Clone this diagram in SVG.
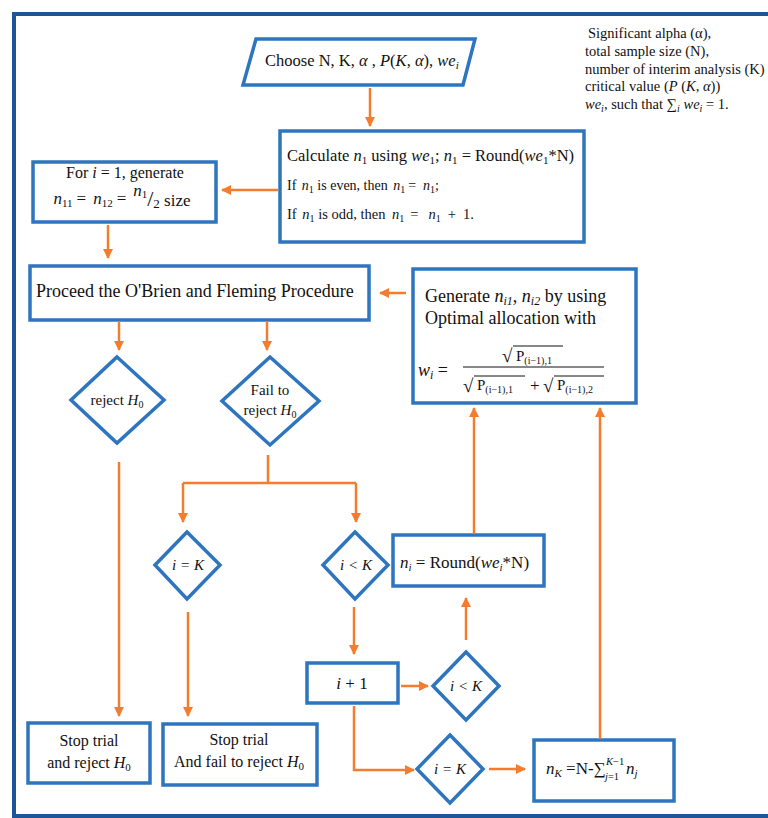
<svg xmlns="http://www.w3.org/2000/svg" width="768" height="818" viewBox="0 0 768 818">
<defs>
<marker id="ah" viewBox="0 0 10 10" refX="9" refY="5" markerWidth="10" markerHeight="10" markerUnits="userSpaceOnUse" orient="auto">
<path d="M0,0 L10,5 L0,10 z" fill="#f47c2f"/>
</marker>
</defs>
<style>
.frame{fill:none;stroke:#1f5596;stroke-width:4}
.box{fill:#fff;stroke:#2e75c0;stroke-width:3.5}
.c{fill:none;stroke:#f47c2f;stroke-width:2.5}
.a{marker-end:url(#ah)}
text{font-family:"Liberation Serif","Times New Roman",serif;fill:#111}
.i{font-style:italic}
.mid{text-anchor:middle}
.bar{stroke:#111;stroke-width:1}
</style>
<rect x="0" y="0" width="768" height="818" fill="#fff"/>
<rect class="frame" x="14" y="14" width="780" height="802"/>

<g id="notes">
<text font-size="14.5" x="588" y="38">Significant alpha (α),</text>
<text font-size="14.5" x="585" y="56">total sample size (N),</text>
<text font-size="14.5" x="585" y="74">number of interim analysis (K)</text>
<text font-size="14.5" x="585" y="91">critical value (<tspan class="i">P</tspan> (<tspan class="i">K</tspan>, <tspan class="i">α</tspan>))</text>
<text font-size="14.5" x="585" y="109"><tspan class="i">we</tspan><tspan class="i" font-size="10" dy="3">i</tspan><tspan dy="-3">, such that ∑</tspan><tspan class="i" font-size="10" dy="3">i</tspan><tspan class="i" dy="-3"> we</tspan><tspan class="i" font-size="10" dy="3">i</tspan><tspan dy="-3"> = 1.</tspan></text>
</g>

<g id="choose">
<polygon class="box" points="256,39 475,39 463,85 243,85"/>
<text font-size="16.5" x="265" y="66">Choose N, K, <tspan class="i">α</tspan> , <tspan class="i">P</tspan>(<tspan class="i">K</tspan>, <tspan class="i">α</tspan>), <tspan class="i">we</tspan><tspan class="i" font-size="11" dy="3">i</tspan></text>
</g>

<g id="calculate">
<rect class="box" x="280" y="131" width="304" height="111"/>
<text font-size="16.5" x="287" y="161">Calculate <tspan class="i">n</tspan><tspan font-size="11" dy="3">1</tspan><tspan dy="-3"> using </tspan><tspan class="i">we</tspan><tspan font-size="11" dy="3">1</tspan><tspan dy="-3">; </tspan><tspan class="i">n</tspan><tspan font-size="11" dy="3">1</tspan><tspan dy="-3"> = Round(</tspan><tspan class="i">we</tspan><tspan font-size="11" dy="3">1</tspan><tspan dy="-3">*N)</tspan></text>
<text font-size="14" x="287" y="190">If <tspan class="i" dx="2">n</tspan><tspan font-size="10" dy="3">1</tspan><tspan dy="-3"> is even, then </tspan><tspan class="i" dx="2">n</tspan><tspan font-size="10" dy="3">1</tspan><tspan dy="-3" dx="3">=</tspan><tspan class="i" dx="7">n</tspan><tspan font-size="10" dy="3">1</tspan><tspan dy="-3">;</tspan></text>
<text font-size="14.5" x="287" y="219">If <tspan class="i" dx="2">n</tspan><tspan font-size="10" dy="3">1</tspan><tspan dy="-3"> is odd, then </tspan><tspan class="i" dx="3">n</tspan><tspan font-size="10" dy="3">1</tspan><tspan dy="-3" dx="6">=</tspan><tspan class="i" dx="10">n</tspan><tspan font-size="10" dy="3">1</tspan><tspan dy="-3" dx="7">+</tspan><tspan dx="7">1.</tspan></text>
</g>

<g id="for">
<rect class="box" x="33" y="162" width="183" height="60"/>
<text font-size="16" x="125" y="178" class="mid">For <tspan class="i">i</tspan> = 1, generate</text>
<text font-size="17" x="122" y="204" class="mid"><tspan class="i">n</tspan><tspan font-size="11" dy="3">11</tspan><tspan dy="-3" dx="4">=</tspan><tspan class="i" dx="7">n</tspan><tspan font-size="11" dy="3">12</tspan><tspan dy="-3" dx="4">=</tspan><tspan class="i" dy="-8" dx="7">n</tspan><tspan font-size="11" dy="2">1</tspan><tspan font-size="22" dy="8">/</tspan><tspan font-size="13" dy="2">2</tspan><tspan dy="-2"> size</tspan></text>
</g>

<g id="proceed">
<rect class="box" x="30" y="266" width="339" height="54"/>
<text font-size="18" x="36" y="297">Proceed the O'Brien and Fleming Procedure</text>
</g>

<g id="generate">
<rect class="box" x="413" y="269" width="223" height="134"/>
<text font-size="18" x="425" y="302">Generate <tspan class="i">n</tspan><tspan class="i" font-size="12" dy="3">i1</tspan><tspan dy="-3">, </tspan><tspan class="i">n</tspan><tspan class="i" font-size="12" dy="3">i2</tspan><tspan dy="-3"> by using</tspan></text>
<text font-size="18" x="425" y="324">Optimal allocation with</text>
<text font-size="18" x="418" y="376"><tspan class="i">w</tspan><tspan class="i" font-size="12" dy="3">i</tspan><tspan dy="-3"> =</tspan></text>
<text font-size="19" x="502" y="362">√</text>
<path class="bar" d="M513,346 H563"/>
<text font-size="15" x="516" y="361">P<tspan font-size="10" dy="3">(i−1),1</tspan></text>
<path class="bar" d="M463,367 H604"/>
<text font-size="19" x="463" y="392">√</text>
<path class="bar" d="M474,376 H525"/>
<text font-size="15" x="477" y="390">P<tspan font-size="10" dy="3">(i−1),1</tspan></text>
<text font-size="17" x="530" y="391">+</text>
<text font-size="19" x="543" y="392">√</text>
<path class="bar" d="M554,376 H604"/>
<text font-size="15" x="557" y="390">P<tspan font-size="10" dy="3">(i−1),2</tspan></text>
</g>

<g id="reject">
<polygon class="box" points="117,357 164,400 117,443 71,400"/>
<text font-size="15" x="117" y="405" class="mid">reject <tspan class="i">H</tspan><tspan font-size="10" dy="3">0</tspan></text>
</g>

<g id="fail">
<polygon class="box" points="270,357 319,401 270,445 222,401"/>
<text font-size="15" x="270" y="395" class="mid">Fail to</text>
<text font-size="15" x="270" y="415" class="mid">reject <tspan class="i">H</tspan><tspan font-size="10" dy="3">0</tspan></text>
</g>

<g id="ieqk1">
<polygon class="box" points="187,532 220,565 187,599 155,565"/>
<text font-size="15" x="188" y="570" class="mid i">i = K</text>
</g>

<g id="iltk1">
<polygon class="box" points="355,532 388,565 355,599 323,565"/>
<text font-size="15" x="356" y="570" class="mid i">i &lt; K</text>
</g>

<g id="ni">
<rect class="box" x="393" y="535" width="151" height="51"/>
<text font-size="17" x="400" y="568"><tspan class="i">n</tspan><tspan class="i" font-size="11" dy="3">i</tspan><tspan dy="-3"> = Round(</tspan><tspan class="i">we</tspan><tspan class="i" font-size="11" dy="3">i</tspan><tspan dy="-3">*N)</tspan></text>
</g>

<g id="iplus1">
<rect class="box" x="307" y="663" width="91" height="40"/>
<text font-size="17" x="352" y="689" class="mid"><tspan class="i">i</tspan> + 1</text>
</g>

<g id="iltk2">
<polygon class="box" points="466,652 499,686 466,720 433,686"/>
<text font-size="15" x="466" y="691" class="mid i">i &lt; K</text>
</g>

<g id="ieqk2">
<polygon class="box" points="450,735 483,769 450,803 417,769"/>
<text font-size="15" x="450" y="774" class="mid i">i = K</text>
</g>

<g id="nk">
<rect class="box" x="534" y="740" width="140" height="61"/>
<text font-size="17" x="546" y="774"><tspan class="i">n</tspan><tspan class="i" font-size="11" dy="3">K</tspan><tspan dy="-3"> =N-∑</tspan></text>
<text font-size="10.5" x="606" y="765" class="i">K<tspan font-style="normal">−1</tspan></text>
<text font-size="10.5" x="605" y="780" class="i">j<tspan font-style="normal">=1</tspan></text>
<text font-size="17" x="626" y="774" class="i">n<tspan font-size="11" dy="3">j</tspan></text>
</g>

<g id="stopreject">
<rect class="box" x="28" y="723" width="122" height="60"/>
<text font-size="16" x="89" y="746" class="mid">Stop trial</text>
<text font-size="16" x="89" y="768" class="mid">and reject <tspan class="i">H</tspan><tspan font-size="11" dy="3">0</tspan></text>
</g>

<g id="stopfail">
<rect class="box" x="163" y="724" width="154" height="61"/>
<text font-size="16" x="239" y="745" class="mid">Stop trial</text>
<text font-size="16" x="239" y="767" class="mid">And fail to reject <tspan class="i">H</tspan><tspan font-size="11" dy="3">0</tspan></text>
</g>

<g id="connectors">
<path class="c a" d="M370,88 V126"/>
<path class="c a" d="M278,190 H222"/>
<path class="c a" d="M108,225 V258"/>
<path class="c a" d="M406,293 H380"/>
<path class="c a" d="M119,321 V350"/>
<path class="c a" d="M267,321 V350"/>
<path class="c a" d="M119,462 V716"/>
<path class="c" d="M268,455 V483 M183,483 H356"/>
<path class="c a" d="M183,483 V522"/>
<path class="c a" d="M356,483 V522"/>
<path class="c a" d="M188,612 V716"/>
<path class="c a" d="M354,607 V654"/>
<path class="c a" d="M466,640 V598"/>
<path class="c a" d="M474,534 V408"/>
<path class="c a" d="M401,686 H428"/>
<path class="c a" d="M354,706 V770 H414"/>
<path class="c a" d="M489,769 H525"/>
<path class="c a" d="M600,739 V408"/>
</g>
</svg>
